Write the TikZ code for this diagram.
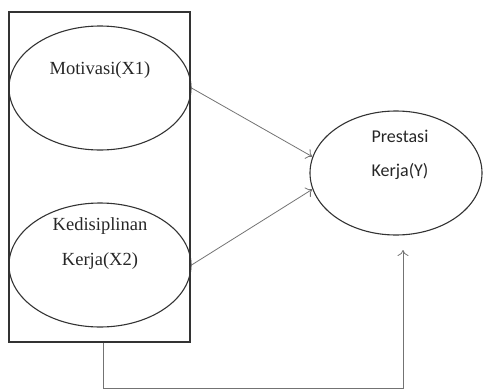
\documentclass[tikz,border=0pt]{standalone}
\usepackage{fontspec}
\setmainfont{Liberation Serif}
\newfontfamily\calib{Carlito}
\usepackage{tikz}
\usetikzlibrary{shapes.geometric}
\usetikzlibrary{positioning}
\usetikzlibrary{arrows.meta}
\tikzset{
	varell/.style={draw=black!80,line width=1.1pt,ellipse,minimum width=182pt,minimum height=124pt,inner sep=0pt},
	serlbl/.style={text=black!85,font=\fontsize{18.5}{35}\selectfont,align=center},
	callbl/.style={text=black!85,font=\calib\fontsize{18}{34}\selectfont,align=center},
	conn/.style={draw=black!55,line width=0.8pt},
	arr/.style={conn,-{To[length=6pt,width=11pt]}}
}
\begin{document}
\begin{tikzpicture}[x=1pt,y=-1pt]
				\useasboundingbox (0,0) rectangle (487,391);
				\node[draw=black!80,line width=1.3pt,minimum width=181pt,minimum height=330pt,inner sep=0pt] (grp) at (99.5,177) {};
				\node[varell] (mot) at (100,88) {};
				\node[serlbl] (motlbl) at (100,70) {Motivasi(X1)};
				\node[varell] (dis) at (100,265) {};
				\node[serlbl] (dislbl) at (100,244) {Kedisiplinan\\Kerja(X2)};
				\node[varell,minimum width=172pt] (pres) at (396,173) {};
				\node[callbl] (preslbl) at (400,155) {Prestasi\\Kerja(Y)};
				\coordinate (jn) at (103,388);
				\coordinate (tip) at (403,250);
				\draw[arr] (mot.east) -- (pres.169);
				\draw[arr] (dis.east) -- (pres.191);
				\draw[arr] (grp.south -| jn) -- (jn) -| (tip);
			\end{tikzpicture}
\end{document}
